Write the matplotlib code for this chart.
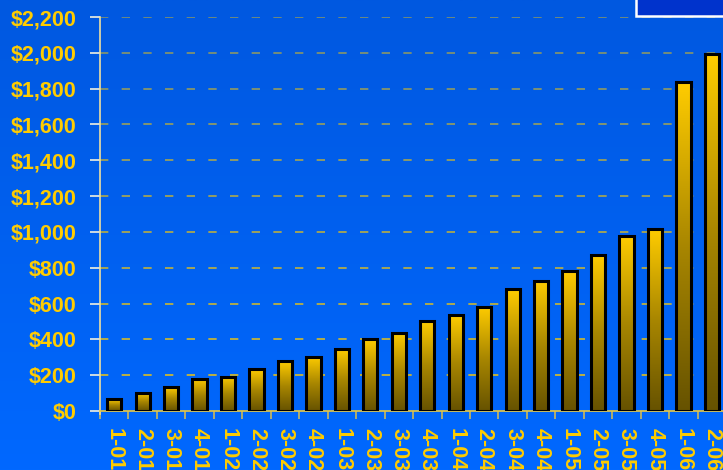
import numpy as np
import matplotlib
matplotlib.use("Agg")
import matplotlib.pyplot as plt
from matplotlib.colors import LinearSegmentedColormap
from matplotlib.patches import Rectangle
from matplotlib.ticker import FuncFormatter

plt.rcParams.update({
    "font.family": ["Liberation Sans", "DejaVu Sans"],
    "font.weight": "bold",
})

quarters = ["1-01", "2-01", "3-01", "4-01", "1-02", "2-02", "3-02", "4-02",
            "1-03", "2-03", "3-03", "4-03", "1-04", "2-04", "3-04", "4-04",
            "1-05", "2-05", "3-05", "4-05", "1-06", "2-06"]
values = [67, 102, 134, 179, 192, 234, 279, 303,
          346, 402, 437, 502, 536, 581, 681, 726,
          780, 871, 977, 1016, 1835, 1991]
y_ticks = [0, 200, 400, 600, 800, 1000, 1200, 1400, 1600, 1800, 2000, 2200]

gold = "#FFCC00"
bar_cmap = LinearSegmentedColormap.from_list("bar", ["#665200", "#A88600", gold])
bg_cmap = LinearSegmentedColormap.from_list("bg", ["#0068FF", "#0058E0"])

fig = plt.figure(figsize=(7.23, 4.70), dpi=100)

# gradient background over the whole figure
bg = fig.add_axes([0, 0, 1, 1], zorder=-10)
bg.imshow(np.linspace(0, 1, 256).reshape(-1, 1), cmap=bg_cmap, aspect="auto",
          origin="lower", extent=[0, 1, 0, 1])
bg.set_axis_off()

ax = fig.add_axes([0.1383, 0.1255, 0.866, 0.8383])
ax.patch.set_alpha(0)

x = np.arange(len(quarters))
width = 0.5
grad = np.linspace(0, 1, 256).reshape(-1, 1)
for xi, v in zip(x, values):
    ax.imshow(grad, cmap=bar_cmap, aspect="auto", origin="lower",
              extent=[xi - width / 2, xi + width / 2, 0, v], zorder=3)
bars = ax.bar(x, values, width=width, facecolor="none", edgecolor="black",
              linewidth=2.2, zorder=4)

ax.set_xlim(-0.5, len(quarters) - 0.5)
ax.set_ylim(0, 2200)

# dashed grid, fading towards the top like the original
for t in y_ticks[1:]:
    a = 0.9 - 0.4 * t / 2200
    ax.axhline(t, color=gold, alpha=a, linewidth=1.2, dashes=(5, 8), zorder=1)

ax.set_yticks(y_ticks)
ax.yaxis.set_major_formatter(FuncFormatter(lambda v, p: f"${v:,.0f}"))
ax.tick_params(axis="y", colors="#F0F0E0", length=7, width=1.2, labelcolor=gold,
               labelsize=15.5, pad=10)

ax.set_xticks(x)
ax.set_xticklabels(quarters, rotation=270, color=gold, fontsize=15.5)
ax.set_xticks(np.arange(len(quarters) + 1) - 0.5, minor=True)
ax.tick_params(axis="x", which="major", length=0, pad=12)
ax.tick_params(axis="x", which="minor", length=6, width=1.2, color="#C8B860")

for side in ["top", "right"]:
    ax.spines[side].set_visible(False)
ax.spines["left"].set_color("#F0E0A0")
ax.spines["left"].set_linewidth(1.2)
ax.spines["left"].set_bounds(-15, 2200)
ax.spines["bottom"].set_color("#E8C840")
ax.spines["bottom"].set_linewidth(1.2)

# legend box peeking in at the top right corner
fig.patches.append(Rectangle((636 / 723, 1 - 16 / 470), 0.2, 0.1,
                             transform=fig.transFigure, facecolor="#0033CC",
                             edgecolor="white", linewidth=1.8, zorder=10))

fig.savefig("out.png", dpi=100)
